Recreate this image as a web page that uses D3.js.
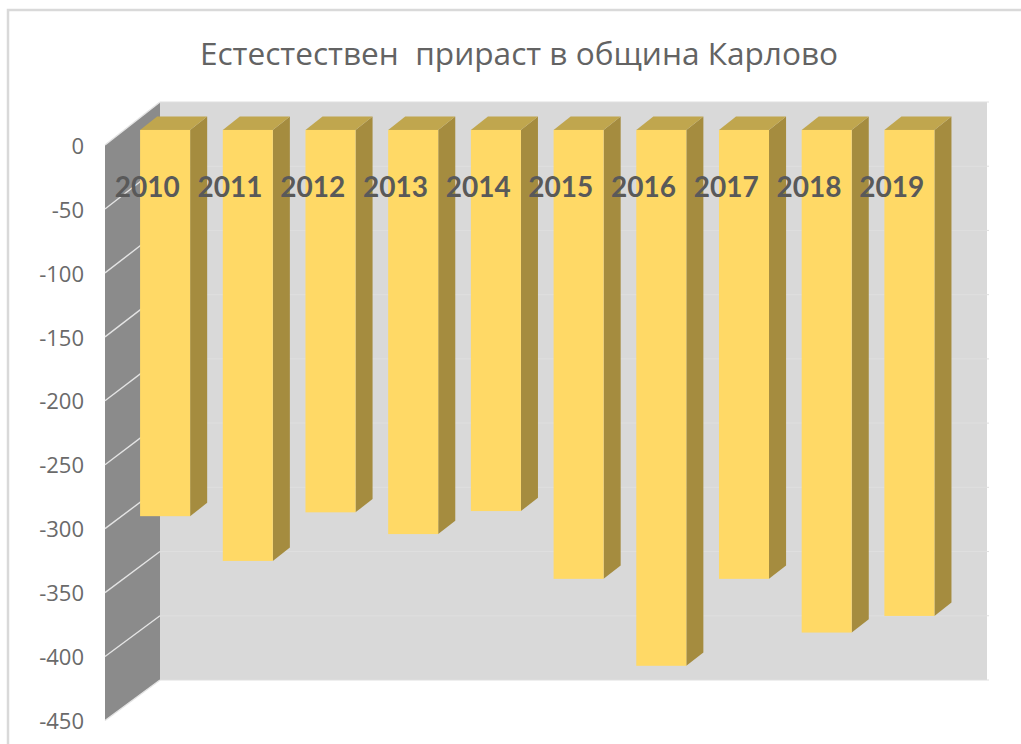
<!DOCTYPE html>
<html><head><meta charset="utf-8">
<script src="https://cdnjs.cloudflare.com/ajax/libs/d3/7.8.5/d3.min.js"></script>
<style>html,body{margin:0;padding:0;background:#fff;overflow:hidden}svg{display:block}</style>
</head><body><svg id="c" width="1021" height="744"></svg>
<script>
const titleText = "Естестествен  прираст в община Карлово";
const years = ["2010","2011","2012","2013","2014","2015","2016","2017","2018","2019"];
const values = [-302,-337,-299,-316,-298,-351,-419,-351,-393,-380];
const yTicks = [0,-50,-100,-150,-200,-250,-300,-350,-400,-450];

const svg = d3.select("#c");
const font = "Lato, 'Open Sans', sans-serif";
const font2 = "'Open Sans', Lato, sans-serif";
const depth = {dx:55, dy:-43};
const y = d3.scaleLinear().domain([0,-450]).range([145,720.5]);
const yBack = d3.scaleLinear().domain([0,-450]).range([102,680]);
const x = d3.scaleBand().domain(years).range([105,932]).paddingInner(0.395).paddingOuter(0.1975);
const barFront = 0.35, barBack = 0.66;
const line = d3.line();
const pts = (arr) => line(arr) + "Z";

// chart frame
svg.append("path").attr("d","M8,744V10H1021").attr("fill","none").attr("stroke","#d9d9d9").attr("stroke-width",2.5);

// title
svg.append("text").attr("x",519).attr("y",65).attr("text-anchor","middle")
  .attr("font-family",font2).attr("font-size",31.6).attr("fill","#636363")
  .style("white-space","pre").text(titleText);

// back wall
const wx0 = x.range()[0]+depth.dx, wx1 = x.range()[1]+depth.dx;
svg.append("rect").attr("x",wx0).attr("y",yBack(0)).attr("width",wx1-wx0)
  .attr("height",yBack(-450)-yBack(0)).attr("fill","#d9d9d9");
svg.selectAll("line.back").data(yTicks).join("line").attr("class","back")
  .attr("x1",wx0).attr("x2",wx1+2)
  .attr("y1",d=>yBack(d)).attr("y2",d=>yBack(d))
  .attr("stroke","#dfdfdf").attr("stroke-width",1);

// side wall
svg.append("path").attr("d",pts([[x.range()[0],y(0)],[wx0,yBack(0)],[wx0,yBack(-450)],[x.range()[0],y(-450)]])).attr("fill","#8b8b8b");
svg.selectAll("line.side").data(yTicks).join("line").attr("class","side")
  .attr("x1",x.range()[0]).attr("x2",wx0)
  .attr("y1",d=>y(d)).attr("y2",d=>yBack(d))
  .attr("stroke","#e4e4e4").attr("stroke-width",1.4);

// y tick labels
svg.selectAll("text.tick").data(yTicks).join("text").attr("class","tick")
  .attr("x",84).attr("y",d=>y(d)+1).attr("dy","0.35em").attr("text-anchor","end")
  .attr("font-family",font2).attr("font-size",22).attr("fill","#6a6a6a").text(d=>d);

// bars
const bars = svg.selectAll("g.bar").data(years.map((yr,i)=>({yr,v:values[i]}))).join("g").attr("class","bar");
const fx = (d,f)=>x(d.yr)+depth.dx*f-0.5;
const fy = (v,f)=>y(v)+depth.dy*f;
bars.append("path").attr("fill","#a58c3f").attr("d",d=>{
  const r=fx(d,barFront)+x.bandwidth(), s=depth.dx*(barBack-barFront), t=depth.dy*(barBack-barFront);
  return pts([[r,fy(0,barFront)],[r+s,fy(0,barFront)+t],[r+s,fy(d.v,barFront)+t],[r,fy(d.v,barFront)]]);
});
bars.append("path").attr("fill","#c0a64e").attr("d",d=>{
  const l=fx(d,barFront), w=x.bandwidth(), s=depth.dx*(barBack-barFront), t=depth.dy*(barBack-barFront), b=fy(0,barFront);
  return pts([[l,b],[l+s,b+t],[l+w+s,b+t],[l+w,b]]);
});
bars.append("rect").attr("fill","#ffd966")
  .attr("x",d=>fx(d,barFront)).attr("y",fy(0,barFront)).attr("width",x.bandwidth())
  .attr("height",d=>fy(d.v,barFront)-fy(0,barFront));

// category labels
svg.selectAll("text.cat").data(years).join("text").attr("class","cat")
  .attr("x",d=>x(d)+x.bandwidth()/2+1).attr("y",187).attr("dy","0.35em").attr("text-anchor","middle")
  .attr("font-family",font).attr("font-weight",700).attr("font-size",28).attr("fill","#595959").text(d=>d);
</script></body></html>
